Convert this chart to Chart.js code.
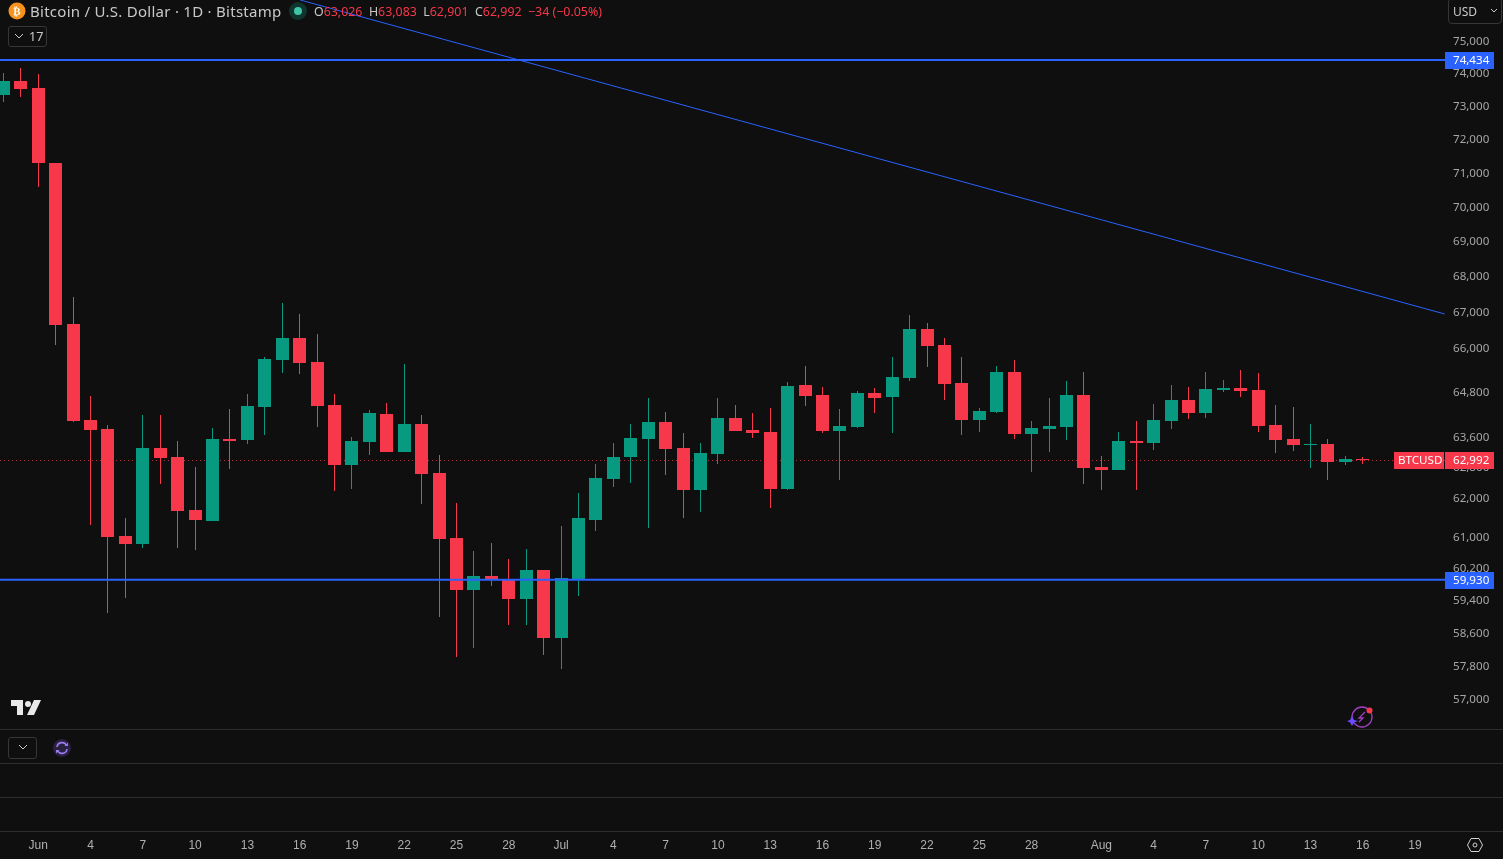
<!DOCTYPE html>
<html>
<head>
<meta charset="utf-8">
<title>BTCUSD 1D</title>
<script src="https://cdn.jsdelivr.net/npm/chart.js@4/dist/chart.umd.min.js"></script>
<style>
    html, body { margin: 0; padding: 0; background: #0f0f0f; overflow: hidden; }
    #wrap { position: relative; width: 1503px; height: 859px; font-family: "Noto Sans", sans-serif; }
    #chart { position: absolute; left: 0; top: 0; }
    .abs { position: absolute; white-space: nowrap; }
    .sep { position: absolute; left: 0; width: 1503px; height: 1px; background: #2e2e2e; }
    .btn { position: absolute; border: 1px solid #363636; border-radius: 3px; box-sizing: border-box; }
    #title { left: 30px; top: 1px; font-size: 15px; letter-spacing: 0.27px; line-height: 20px; color: #c9c9c9; }
    #ohlc { left: 314px; top: 3px; font-size: 12.4px; line-height: 17px; color: #f7374a; }
    #ohlc b { font-weight: normal; color: #c9c9c9; }
</style>
</head>
<body>
<div id="wrap">
    <canvas id="chart" width="1503" height="859"></canvas>

    <div class="sep" style="top:729px"></div>
    <div class="sep" style="top:763px"></div>
    <div class="sep" style="top:797px"></div>
    <div class="sep" style="top:831px"></div>

    <svg class="abs" style="left:8px;top:2px" width="18" height="18"><circle cx="9" cy="9" r="8.5" fill="#f7931a"/><text x="9" y="13" font-size="11" font-weight="bold" fill="#fff" text-anchor="middle" font-family="DejaVu Sans">₿</text></svg>
    <div class="abs" id="title">Bitcoin / U.S. Dollar · 1D · Bitstamp</div>
    <svg class="abs" style="left:289px;top:2px" width="18" height="18"><circle cx="9" cy="9" r="9" fill="#10352f"/><circle cx="9" cy="9" r="4" fill="#3fc4a6"/></svg>
    <div class="abs" id="ohlc"><b>O</b>63,026 &nbsp;<b>H</b>63,083 &nbsp;<b>L</b>62,901 &nbsp;<b>C</b>62,992 &nbsp;−34 (−0.05%)</div>

    <div class="btn" style="left:8px;top:26px;width:39px;height:21px"></div>
    <svg class="abs" style="left:14px;top:32px" width="10" height="8"><path d="M1 2 L5 6 L9 2" stroke="#c9c9c9" fill="none"/></svg>
    <div class="abs" style="left:29px;top:28px;font-size:12.5px;line-height:17px;color:#c9c9c9">17</div>

    <div class="btn" style="left:1448px;top:-2px;width:54px;height:26px;border-radius:4px"></div>
    <div class="abs" style="left:1453px;top:3px;font-size:12px;line-height:17px;color:#c9c9c9">USD</div>
    <svg class="abs" style="left:1490px;top:8px" width="8" height="6"><path d="M1 1 L4 4 L7 1" stroke="#c9c9c9" fill="none"/></svg>

    <svg class="abs" style="left:11px;top:700px" width="31" height="16"><path d="M0 0 H12 V15 H6 V6 H0 Z" fill="#e8e8e8"/><circle cx="17" cy="4" r="3" fill="#e8e8e8"/><path d="M23 0 H30 L23 15 H16 Z" fill="#e8e8e8"/></svg>

    <svg class="abs" style="left:1347px;top:705px" width="28" height="24"><circle cx="15" cy="12" r="10" stroke="#a03fc0" stroke-width="1.3" fill="none"/><path d="M18 7 L12 13 H16 L12 17" stroke="#a03fc0" stroke-width="1.3" fill="none"/><path d="M5 11 L7 15 L11 16 L7 17.500 L5 21 L3 17.500 L0 16 L3 15 Z" fill="#6a4cff"/><circle cx="22.500" cy="5.500" r="3" fill="#f7374a"/></svg>

    <div class="btn" style="left:8px;top:737px;width:29px;height:22px"></div>
    <svg class="abs" style="left:17px;top:744px" width="12" height="8"><path d="M2 1 L6 5 L10 1" stroke="#c9c9c9" fill="none"/></svg>
    <svg class="abs" style="left:53px;top:739px" width="18" height="18"><circle cx="9" cy="9" r="9" fill="#2a2140"/><path d="M4 8 A5 5 0 0 1 13.500 6.500 M14 10 A5 5 0 0 1 4.500 11.500" stroke="#9a7bf0" stroke-width="1.6" fill="none"/><path d="M11.500 7 H15 V3.500 Z M6.500 11 H3 V14.500 Z" fill="#9a7bf0"/></svg>

    <svg class="abs" style="left:1467px;top:837px" width="16" height="16"><path d="M4 1.500 H12 L15.500 8 L12 14.500 H4 L0.500 8 Z" stroke="#d0d0d0" fill="none"/><circle cx="8" cy="8" r="2" stroke="#d0d0d0" fill="none"/></svg>
</div>

<script>
// daily candles, May 30 -> Aug 16
const opens = [73357,73788,73572,71307,66678,64062,63822,61037,60832,63315,63079,61701,61420,63555,63529,64408,65684,66289,65629,64462,
    62870,63475,64222,63210,63955,62662,60986,59677,60028,59953,59452,60178,58495,59928,61446,62505,63079,63555,64009,63315,
    62218,63158,64115,63795,63742,62244,65003,64731,63769,63875,64786,64677,65194,66539,66095,65058,64062,64275,65357,63689,
    63822,63875,64731,62818,62740,63502,63449,64035,64595,64248,64867,64922,64867,63929,63555,63396,63422,62949,63026];
const highs = [74034,74188,74003,71307,67430,64704,63929,61497,64195,64195,63502,62818,63849,64355,64758,65765,67262,66956,66400,64758,
    63609,64328,64515,65575,64195,63132,61880,60654,60858,60454,60704,60178,61292,62140,62897,63449,63955,64649,64275,63715,
    63449,64649,64462,64248,64382,65085,65520,64949,64355,64840,64922,65765,66928,66706,66289,65765,64382,65520,65684,64035,
    64649,65112,65357,63105,63742,64035,64488,65003,64949,65357,65139,65412,65330,64462,64408,63955,63555,63105,63083];
const lows = [73143,73295,70598,66095,64009,61318,59108,59477,60730,62375,60730,60679,61420,62766,63422,63662,65330,65303,63875,62192,
    62244,63132,63210,63210,61855,59010,58033,58250,59778,58814,58814,58081,57745,59527,61165,62296,62401,61241,62610,61497,
    61650,62897,63769,63582,61752,62218,64435,63715,62479,63849,64248,63715,65112,65493,64595,63662,63742,64248,63555,62688,
    63210,63529,62375,62218,62740,62218,63262,63822,64088,64115,64813,64677,63742,63184,63236,62792,62479,62870,62901];
const closes = [73788,73541,71307,66650,64035,63795,61011,60832,63315,63053,61676,61446,63555,63502,64435,65711,66289,65602,64435,62870,
    63502,64248,63210,63955,62636,60960,59677,60028,59928,59452,60178,58495,59978,61497,62531,63079,63582,64009,63289,62218,
    63184,64115,63769,63715,62244,64976,64704,63769,63902,64786,64649,65221,66539,66067,65031,64062,64302,65357,63689,63849,
    63902,64731,62792,62740,63502,63449,64062,64595,64248,64894,64922,64840,63902,63529,63396,63422,62949,63027,62992];

const priceTicks = [75000,74000,73000,72000,71000,70000,69000,68000,67000,66000,64800,63600,62800,62000,61000,60200,59400,58600,57800,57000];
const dayTickIndex = [2,5,8,11,14,17,20,23,26,29,32,35,38,41,44,47,50,53,56,59,63,66,69,72,75,78,81];
const dayTickLabels = ['Jun','4','7','10','13','16','19','22','25','28','Jul','4','7','10','13','16','19','22','25','28','Aug','4','7','10','13','16','19'];

const supportLevel = 59930;
const resistanceLevel = 74434;
const lastPrice = 62992;
const trendFrom = [17.03, 76320];
const trendTo = [82.7, 66954];

const priceMin = 56313, priceMax = 76320;
const dayMin = -0.19682, dayMax = 82.722;

const UP = '#089981', DOWN = '#f7374a', BLUE = '#2962ff', AXIS_TEXT = '#a6a6a6';
const candleColors = closes.map((c, i) => (c >= opens[i] ? UP : DOWN));

const fmt = v => Number(v).toLocaleString('en-US');
const hline = v => [{ x: dayMin, y: v }, { x: dayMax, y: v }];

// snap bars and the dotted last price line to whole pixels so they stay crisp
const snapMarks = {
    id: 'snapMarks',
    afterDatasetsUpdate(chart) {
        chart.data.datasets.forEach((ds, i) => {
            const els = chart.getDatasetMeta(i).data;
            if (ds.type === 'bar') {
                els.forEach(el => {
                    el.x = Math.round(el.x - 0.5) + 0.5;
                    el.y = Math.round(el.y);
                    el.base = Math.round(el.base);
                });
            } else if (ds.borderDash) {
                els.forEach(el => { el.y = Math.floor(el.y) + 0.5; });
            }
        });
    }
};

// price tags over the right axis
const priceTags = {
    id: 'priceTags',
    afterDraw(chart) {
        const c = chart.ctx, y = chart.scales.y;
        const tag = (x, w, pad, value, text, color) => {
            const py = Math.round(y.getPixelForValue(value));
            c.fillStyle = color;
            c.fillRect(x, py - 8, w, 17);
            c.fillStyle = '#ffffff';
            c.fillText(text, x + pad, py + 0.5);
        };
        c.save();
        c.font = '11.6px "Noto Sans"';
        c.textAlign = 'left';
        c.textBaseline = 'middle';
        tag(1445, 49, 8, resistanceLevel, fmt(resistanceLevel), BLUE);
        tag(1445, 49, 8, supportLevel, fmt(supportLevel), BLUE);
        tag(1394, 50, 4, lastPrice, 'BTCUSD', DOWN);
        tag(1445, 49, 8, lastPrice, fmt(lastPrice), DOWN);
        c.restore();
    }
};

new Chart(document.getElementById('chart').getContext('2d'), {
    data: {
        datasets: [
            {
                type: 'line',
                data: hline(resistanceLevel),
                borderColor: BLUE,
                borderWidth: 2,
                pointRadius: 0,
                order: 0
            },
            {
                type: 'line',
                data: hline(supportLevel),
                borderColor: BLUE,
                borderWidth: 2,
                pointRadius: 0,
                order: 0
            },
            {
                type: 'line',
                data: [{ x: trendFrom[0], y: trendFrom[1] }, { x: trendTo[0], y: trendTo[1] }],
                borderColor: BLUE,
                borderWidth: 1,
                pointRadius: 0,
                order: 0
            },
            {
                type: 'bar',
                data: opens.map((o, i) => ({ x: i, y: [o, closes[i]] })),
                backgroundColor: candleColors,
                barThickness: 13,
                grouped: false,
                inflateAmount: 0,
                order: 1
            },
            {
                type: 'bar',
                data: lows.map((l, i) => ({ x: i, y: [l, highs[i]] })),
                backgroundColor: candleColors,
                barThickness: 1,
                grouped: false,
                inflateAmount: 0,
                order: 2
            },
            {
                type: 'line',
                data: hline(lastPrice),
                borderColor: 'rgba(247, 55, 74, 0.7)',
                borderWidth: 1,
                borderDash: [1, 3],
                pointRadius: 0,
                order: 3
            }
        ]
    },
    options: {
        responsive: false,
        devicePixelRatio: 1,
        animation: false,
        events: [],
        layout: { padding: 0 },
        plugins: { legend: { display: false }, tooltip: { enabled: false }, title: { display: false } },
        scales: {
            x: {
                type: 'linear',
                offset: false,
                min: dayMin,
                max: dayMax,
                grid: { display: false, drawTicks: false },
                border: { display: false },
                afterBuildTicks(scale) { scale.ticks = dayTickIndex.map(v => ({ value: v })); },
                afterFit(scale) {
                    scale.height = 130;
                    scale.paddingLeft = 0;
                    scale.paddingRight = 0;
                },
                ticks: {
                    autoSkip: false,
                    maxRotation: 0,
                    padding: 109,
                    color: '#b0b0b0',
                    font: { family: '"Liberation Sans"', size: 12 },
                    callback: v => dayTickLabels[dayTickIndex.indexOf(v)]
                }
            },
            y: {
                type: 'logarithmic',
                position: 'right',
                min: priceMin,
                max: priceMax,
                grid: { display: false, drawTicks: false },
                border: { display: false },
                afterBuildTicks(scale) { scale.ticks = priceTicks.map(v => ({ value: v })); },
                afterFit(scale) {
                    scale.width = 58;
                    scale.paddingTop = 0;
                    scale.paddingBottom = 0;
                },
                ticks: {
                    autoSkip: false,
                    padding: 8,
                    color: AXIS_TEXT,
                    font: { family: '"Noto Sans"', size: 11.6 },
                    callback: v => fmt(v)
                }
            }
        }
    },
    plugins: [snapMarks, priceTags]
});
</script>
</body>
</html>
